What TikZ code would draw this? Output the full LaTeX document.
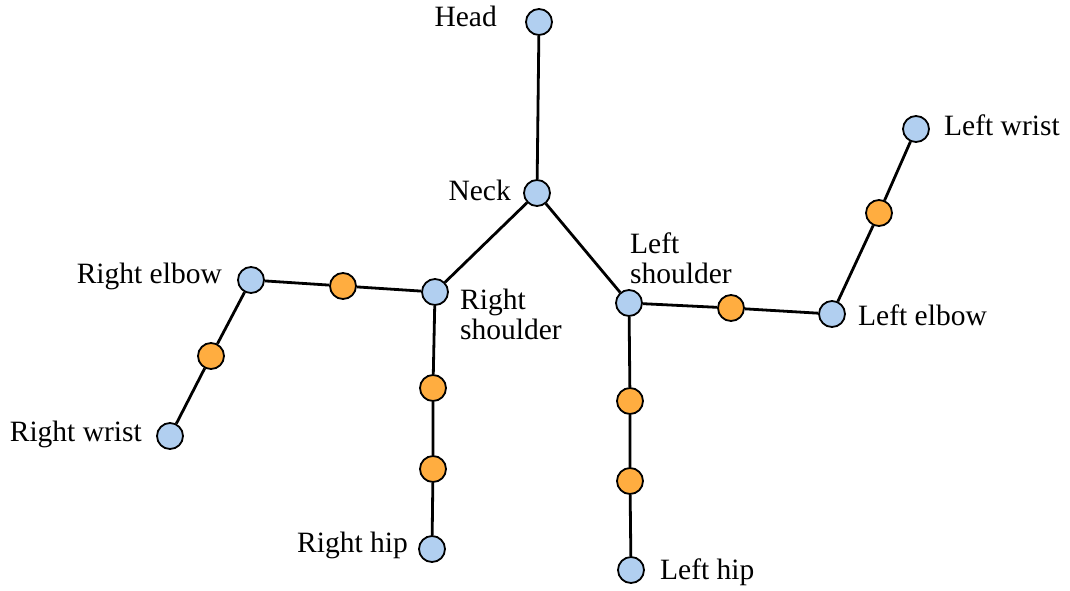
\documentclass[tikz,border=0pt]{standalone}
\usepackage{fontspec}
\setmainfont{Liberation Serif}
\definecolor{jblue}{RGB}{177,207,240}
\definecolor{jorange}{RGB}{255,173,64}
\tikzset{
  joint/.style={circle,draw=black,line width=1.8pt,fill=jblue,minimum size=26pt,inner sep=0pt},
  mid/.style={circle,draw=black,line width=1.8pt,fill=jorange,minimum size=26pt,inner sep=0pt},
  bone/.style={draw=black,line width=2.8pt},
  lbl/.style={inner sep=0pt,font=\fontsize{29.5}{30}\selectfont,align=left}
}
\begin{document}
\begin{tikzpicture}[x=1pt,y=-1pt]
\useasboundingbox (0,0) rectangle (1070,590);
% joints
\node[joint] (head) at (539,22) {};
\node[joint] (neck) at (537,193) {};
\node[joint] (rs) at (435,292) {};
\node[joint] (re) at (251,280) {};
\node[joint] (rw) at (170,436) {};
\node[joint] (rh) at (432,549) {};
\node[joint] (ls) at (629,303) {};
\node[joint] (le) at (832,314) {};
\node[joint] (lw) at (916,129) {};
\node[joint] (lh) at (631,570) {};
% intermediate points
\node[mid] (o1) at (343,286) {};
\node[mid] (o2) at (211,356) {};
\node[mid] (o3) at (433,388) {};
\node[mid] (o4) at (433,469) {};
\node[mid] (o5) at (731,308) {};
\node[mid] (o6) at (879,213) {};
\node[mid] (o7) at (630,401) {};
\node[mid] (o8) at (630,481) {};
% bones
\draw[bone] (head) -- (neck);
\draw[bone] (neck) -- (rs);
\draw[bone] (neck) -- (ls);
\draw[bone] (rs) -- (o1) -- (re);
\draw[bone] (re) -- (o2) -- (rw);
\draw[bone] (rs) -- (o3) -- (o4) -- (rh);
\draw[bone] (ls) -- (o5) -- (le);
\draw[bone] (le) -- (o6) -- (lw);
\draw[bone] (ls) -- (o7) -- (o8) -- (lh);
% labels
\node[lbl,anchor=base east] (thead) at (497,26) {Head};
\node[lbl,anchor=base east] (tneck) at (511,200) {Neck};
\node[lbl,anchor=base east] (tre) at (222,283) {Right elbow};
\node[lbl,anchor=base east] (trw) at (142,441) {Right wrist};
\node[lbl,anchor=base east] (trh) at (408,552) {Right hip};
\node[lbl,anchor=base west] (tlw) at (944,135) {Left wrist};
\node[lbl,anchor=base west] (tle) at (858,325) {Left elbow};
\node[lbl,anchor=base west] (tlh) at (660,579) {Left hip};
\node[lbl,anchor=north west] (trs) at (460,289) {Right\\shoulder};
\node[lbl,anchor=north west] (tls) at (630,233) {Left\\shoulder};
\end{tikzpicture}
\end{document}
